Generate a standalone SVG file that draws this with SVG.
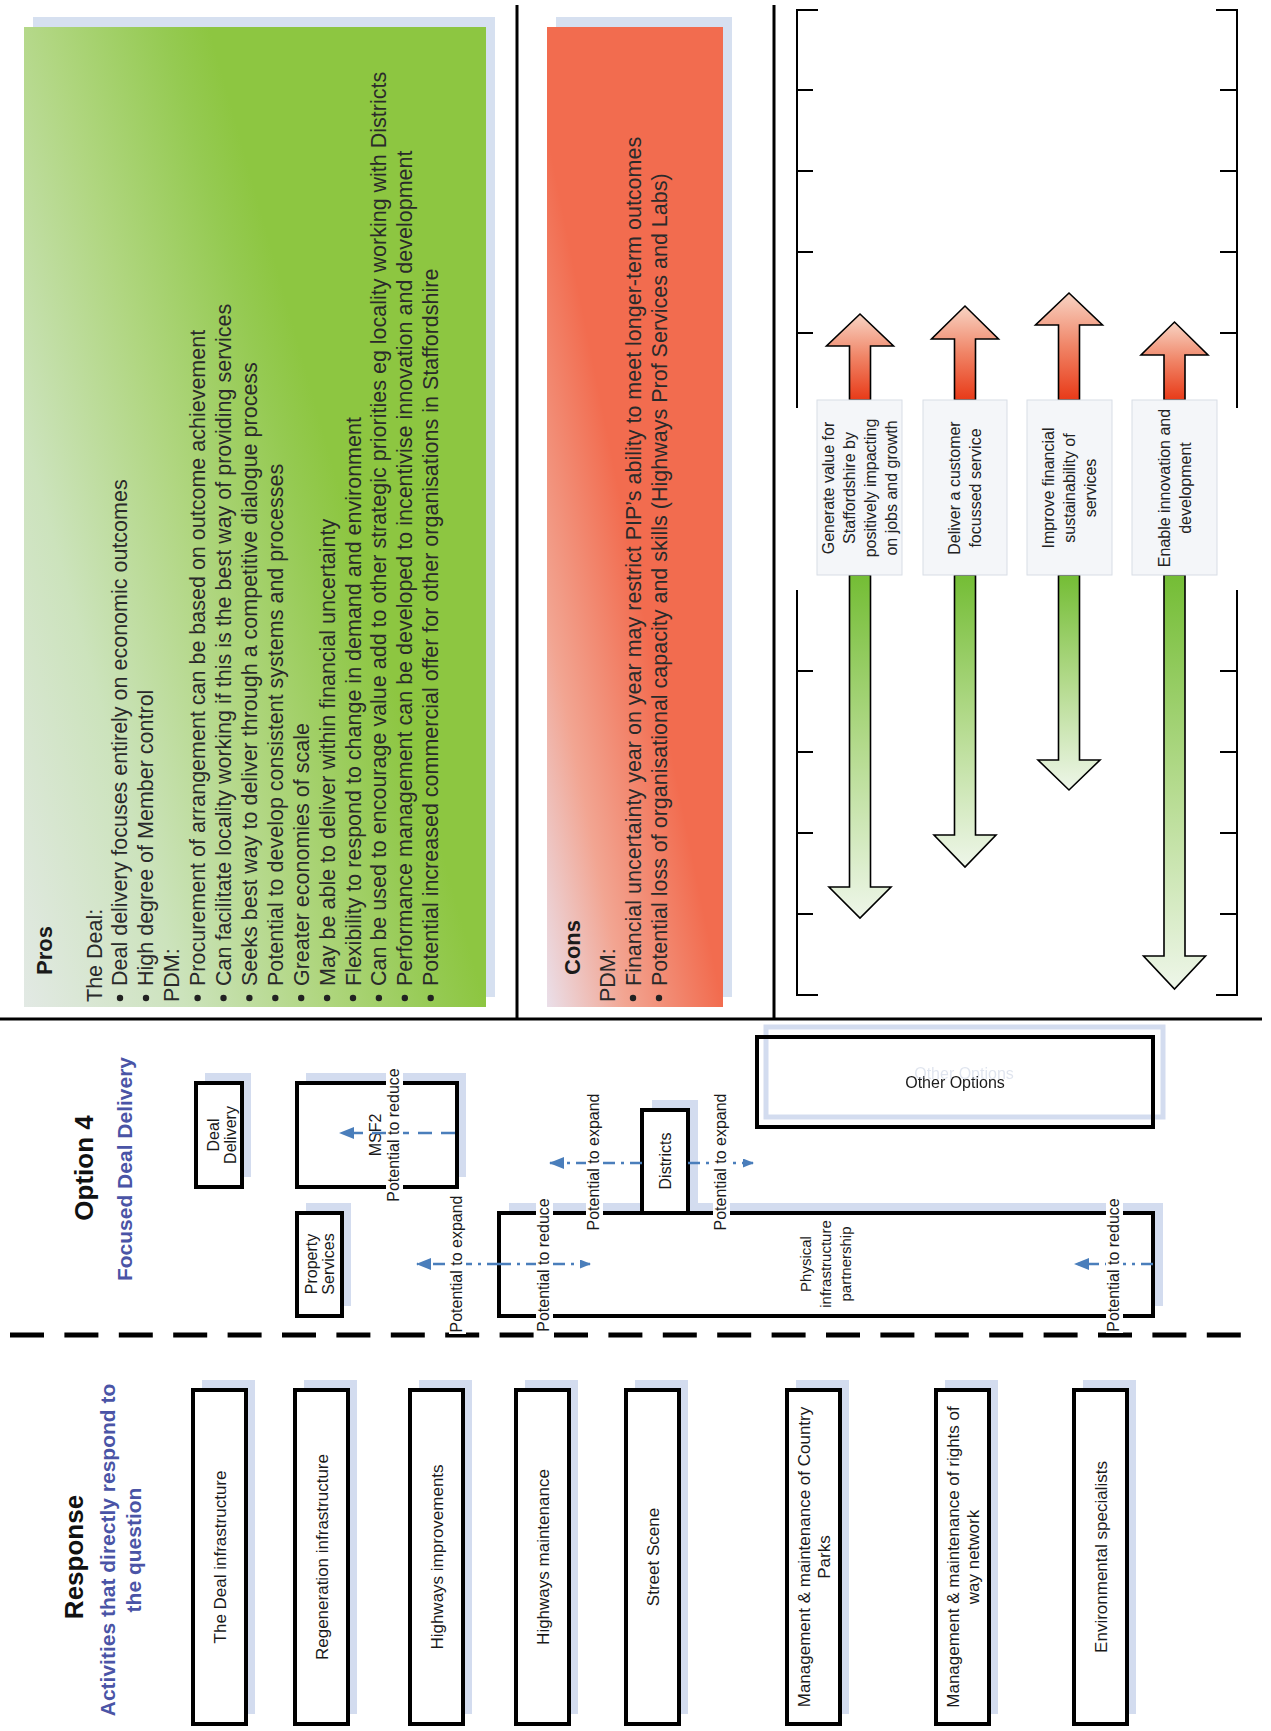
<svg xmlns="http://www.w3.org/2000/svg" width="1271" height="1731" viewBox="0 0 1271 1731">
<style>
  text { font-family: "Liberation Sans", Arial, sans-serif; fill: #1a1a1a; }
  .body { font-size: 21.5px; fill: #2a2a2a; }
  .head { font-size: 22px; font-weight: bold; fill: #1a1a1a; }
  .title { font-size: 26px; font-weight: bold; fill: #111; text-anchor: middle; }
  .sub { font-size: 21px; font-weight: bold; fill: #4a54a6; text-anchor: middle; }
  .node { fill: #fff; stroke: #000; stroke-width: 4; }
  .shadow { fill: #d3dcef; }
  .lbl { font-size: 16px; text-anchor: middle; }
  .small { font-size: 15px; text-anchor: middle; }
  .resp { font-size: 17px; text-anchor: middle; }
  .goal { font-size: 16px; text-anchor: middle; fill: #222; }
  .conn { fill: none; stroke: #4a7ebb; stroke-width: 2.5; stroke-dasharray: 12 6 3 6; }
  .conn.dash { stroke-dasharray: 14 9; }
  .lblbg { fill: #fff; }
  .rule { stroke: #000; stroke-width: 3; fill: none; }
  .sep { stroke: #000; stroke-width: 5; stroke-dasharray: 34 20.4; fill: none; }
  .tick { stroke: #000; stroke-width: 2; fill: none; }
  .up { stroke: #000; stroke-width: 1.6; fill: url(#upGrad); }
  .down { stroke: #000; stroke-width: 1.6; fill: url(#downGrad); }
  .goalbox { fill: #f4f6f9; stroke: #d8dde5; stroke-width: 1; }
  .dot { fill: #222; }
</style>
<defs>
  <linearGradient id="prosGrad" gradientUnits="userSpaceOnUse" x1="24" y1="1007" x2="452" y2="886">
    <stop offset="0" stop-color="#e2e9e4"/>
    <stop offset="0.35" stop-color="#cce3bc"/>
    <stop offset="0.65" stop-color="#b0d680"/>
    <stop offset="0.9" stop-color="#95ca52"/>
    <stop offset="1" stop-color="#8dc641"/>
  </linearGradient>
  <linearGradient id="consGrad" gradientUnits="userSpaceOnUse" x1="547" y1="1007" x2="716" y2="973">
    <stop offset="0" stop-color="#eadfe9"/>
    <stop offset="0.45" stop-color="#f2a592"/>
    <stop offset="1" stop-color="#f26c4f"/>
  </linearGradient>
  <linearGradient id="upGrad" x1="0" y1="0" x2="0" y2="1">
    <stop offset="0" stop-color="#f8d4c4"/>
    <stop offset="0.5" stop-color="#f08466"/>
    <stop offset="1" stop-color="#e83a18"/>
  </linearGradient>
  <linearGradient id="downGrad" x1="0" y1="0" x2="0" y2="1">
    <stop offset="0" stop-color="#74bd35"/>
    <stop offset="0.5" stop-color="#b3da8c"/>
    <stop offset="1" stop-color="#eef6e9"/>
  </linearGradient>
  <marker id="headL" markerUnits="userSpaceOnUse" markerWidth="15" markerHeight="12" refX="14" refY="6" orient="auto">
    <path d="M0,0 L15,6 L0,12 z" fill="#4a7ebb"/>
  </marker>
  <marker id="headS" markerUnits="userSpaceOnUse" markerWidth="11" markerHeight="9" refX="10" refY="4.5" orient="auto">
    <path d="M0,0 L11,4.5 L0,9 z" fill="#4a7ebb"/>
  </marker>
  <filter id="ghost" x="-10%" y="-50%" width="120%" height="200%">
    <feOffset in="SourceAlpha" dx="9" dy="-9" result="off"/>
    <feFlood flood-color="#dfe4ee"/>
    <feComposite in2="off" operator="in" result="sh"/>
    <feMerge><feMergeNode in="sh"/><feMergeNode in="SourceGraphic"/></feMerge>
  </filter>
</defs>

<!-- frame rules -->
<g id="frame">
  <line class="rule" x1="517" y1="5" x2="517" y2="1019"/>
  <line class="rule" x1="774" y1="5" x2="774" y2="1019"/>
  <line class="rule" x1="0" y1="1019" x2="1262" y2="1019"/>
  <line class="sep" x1="10" y1="1335" x2="1241" y2="1335"/>
</g>

<!-- Pros panel -->
<g id="pros">
  <rect x="33" y="17" width="462" height="980" fill="#d6e0f0"/>
  <rect x="24" y="27" width="462" height="980" fill="url(#prosGrad)"/>
  <text class="head" x="52" y="975" transform="rotate(-90 52 975)">Pros</text>
  <text class="body" x="101.5" y="1002" transform="rotate(-90 101.5 1002)">The Deal:</text>
  <circle class="dot" cx="120" cy="998" r="3.2"/>
  <text class="body" x="127.4" y="986" transform="rotate(-90 127.4 986)">Deal delivery focuses entirely on economic outcomes</text>
  <circle class="dot" cx="146" cy="998" r="3.2"/>
  <text class="body" x="153.3" y="986" transform="rotate(-90 153.3 986)">High degree of Member control</text>
  <text class="body" x="179.2" y="1002" transform="rotate(-90 179.2 1002)">PDM:</text>
  <circle class="dot" cx="197.6" cy="998" r="3.2"/>
  <text class="body" x="205.1" y="986" transform="rotate(-90 205.1 986)">Procurement of arrangement can be based on outcome achievement</text>
  <circle class="dot" cx="223.5" cy="998" r="3.2"/>
  <text class="body" x="231" y="986" transform="rotate(-90 231 986)">Can facilitate locality working if this is the best way of providing services</text>
  <circle class="dot" cx="249.4" cy="998" r="3.2"/>
  <text class="body" x="256.9" y="986" transform="rotate(-90 256.9 986)">Seeks best way to deliver through a competitive dialogue process</text>
  <circle class="dot" cx="275.3" cy="998" r="3.2"/>
  <text class="body" x="282.8" y="986" transform="rotate(-90 282.8 986)">Potential to develop consistent systems and processes</text>
  <circle class="dot" cx="301.2" cy="998" r="3.2"/>
  <text class="body" x="308.7" y="986" transform="rotate(-90 308.7 986)">Greater economies of scale</text>
  <circle class="dot" cx="327.1" cy="998" r="3.2"/>
  <text class="body" x="334.6" y="986" transform="rotate(-90 334.6 986)">May be able to deliver within financial uncertainty</text>
  <circle class="dot" cx="353" cy="998" r="3.2"/>
  <text class="body" x="360.5" y="986" transform="rotate(-90 360.5 986)">Flexibility to respond to change in demand and environment</text>
  <circle class="dot" cx="378.9" cy="998" r="3.2"/>
  <text class="body" x="386.4" y="986" transform="rotate(-90 386.4 986)">Can be used to encourage value add to other strategic priorities eg locality working with Districts</text>
  <circle class="dot" cx="404.8" cy="998" r="3.2"/>
  <text class="body" x="412.3" y="986" transform="rotate(-90 412.3 986)">Performance management can be developed to incentivise innovation and development</text>
  <circle class="dot" cx="430.7" cy="998" r="3.2"/>
  <text class="body" x="438.2" y="986" transform="rotate(-90 438.2 986)">Potential increased commercial offer for other organisations in Staffordshire</text>
</g>

<!-- Cons panel -->
<g id="cons">
  <rect x="556" y="17" width="176" height="980" fill="#d6e0f0"/>
  <rect x="547" y="27" width="176" height="980" fill="url(#consGrad)"/>
  <text class="head" x="580" y="975" transform="rotate(-90 580 975)">Cons</text>
  <text class="body" x="614.5" y="1002" transform="rotate(-90 614.5 1002)">PDM:</text>
  <circle class="dot" cx="633" cy="998" r="3.2"/>
  <text class="body" x="640.5" y="986" transform="rotate(-90 640.5 986)">Financial uncertainty year on year may restrict PIP’s ability to meet longer-term outcomes</text>
  <circle class="dot" cx="659" cy="998" r="3.2"/>
  <text class="body" x="666.5" y="986" transform="rotate(-90 666.5 986)">Potential loss of organisational capacity and skills (Highways Prof Services and Labs)</text>
</g>

<!-- measurement scale brackets -->
<g id="scale">
  <path class="tick" d="M818,10 H797 V408 M797,90 H813 M797,171 H813 M797,252 H813 M797,333 H813"/>
  <path class="tick" d="M797,590 V995 H818 M797,671 H813 M797,752 H813 M797,833 H813 M797,914 H813"/>
  <path class="tick" d="M1216,10 H1237 V408 M1237,90 H1220 M1237,171 H1220 M1237,252 H1220 M1237,333 H1220"/>
  <path class="tick" d="M1237,590 V995 H1216 M1237,671 H1220 M1237,752 H1220 M1237,833 H1220 M1237,914 H1220"/>
</g>

<!-- outcome goals with up / down arrows -->
<g id="goal-value">
  <polygon class="up" points="849.5,400 849.5,346 826.5,346 860,314 893.5,346 870.5,346 870.5,400"/>
  <polygon class="down" points="849.5,575 849.5,887 829,887 860,918 891,887 870.5,887 870.5,575"/>
  <rect class="goalbox" x="817" y="400" width="85" height="175"/>
  <text class="goal" x="833.7" y="488" transform="rotate(-90 833.7 488)">Generate value for</text>
  <text class="goal" x="854.7" y="488" transform="rotate(-90 854.7 488)">Staffordshire by</text>
  <text class="goal" x="875.7" y="488" transform="rotate(-90 875.7 488)">positively impacting</text>
  <text class="goal" x="896.7" y="488" transform="rotate(-90 896.7 488)">on jobs and growth</text>
</g>
<g id="goal-customer">
  <polygon class="up" points="954.5,400 954.5,339 931.5,339 965,306 998.5,339 975.5,339 975.5,400"/>
  <polygon class="down" points="954.5,575 954.5,835 934,835 965,867 996,835 975.5,835 975.5,575"/>
  <rect class="goalbox" x="923" y="400" width="84" height="175"/>
  <text class="goal" x="960" y="488" transform="rotate(-90 960 488)">Deliver a customer</text>
  <text class="goal" x="981" y="488" transform="rotate(-90 981 488)">focussed service</text>
</g>
<g id="goal-finance">
  <polygon class="up" points="1058.5,400 1058.5,325 1035.5,325 1069,293 1102.5,325 1079.5,325 1079.5,400"/>
  <polygon class="down" points="1058.5,575 1058.5,760 1038,760 1069,790 1100,760 1079.5,760 1079.5,575"/>
  <rect class="goalbox" x="1027" y="400" width="85" height="175"/>
  <text class="goal" x="1054" y="488" transform="rotate(-90 1054 488)">Improve financial</text>
  <text class="goal" x="1075" y="488" transform="rotate(-90 1075 488)">sustainability of</text>
  <text class="goal" x="1096" y="488" transform="rotate(-90 1096 488)">services</text>
</g>
<g id="goal-innovation">
  <polygon class="up" points="1164,400 1164,355 1141,355 1174.5,322 1208,355 1185,355 1185,400"/>
  <polygon class="down" points="1164,575 1164,956 1143.5,956 1174.5,989 1205.5,956 1185,956 1185,575"/>
  <rect class="goalbox" x="1132" y="400" width="85" height="175"/>
  <text class="goal" x="1169.5" y="488" transform="rotate(-90 1169.5 488)">Enable innovation and</text>
  <text class="goal" x="1190.5" y="488" transform="rotate(-90 1190.5 488)">development</text>
</g>

<!-- Option 4 heading -->
<g id="option-heading">
  <text class="title" x="93" y="1168" transform="rotate(-90 93 1168)">Option 4</text>
  <text class="sub" x="132" y="1169" transform="rotate(-90 132 1169)">Focused Deal Delivery</text>
</g>

<!-- Option 4 organisations -->
<g id="deal-delivery">
  <rect class="shadow" x="205" y="1073" width="46" height="104"/>
  <rect class="node" x="196" y="1083" width="46" height="104"/>
  <text class="lbl" x="218.5" y="1135" transform="rotate(-90 218.5 1135)">Deal</text>
  <text class="lbl" x="235.5" y="1135" transform="rotate(-90 235.5 1135)">Delivery</text>
</g>
<g id="msf2">
  <rect class="shadow" x="306" y="1073" width="160" height="104"/>
  <rect class="node" x="297" y="1083" width="160" height="104"/>
  <text class="lbl" x="381" y="1135" transform="rotate(-90 381 1135)">MSF2</text>
</g>
<g id="property-services">
  <rect class="shadow" x="306" y="1203" width="45" height="103"/>
  <rect class="node" x="297" y="1213" width="45" height="103"/>
  <text class="lbl" x="317" y="1264" transform="rotate(-90 317 1264)">Property</text>
  <text class="lbl" x="334" y="1264" transform="rotate(-90 334 1264)">Services</text>
</g>
<g id="pip">
  <rect class="shadow" x="509" y="1203" width="654" height="103"/>
  <rect class="node" x="499" y="1213" width="654" height="103"/>
  <text class="small" x="811" y="1264" transform="rotate(-90 811 1264)">Physical</text>
  <text class="small" x="831" y="1264" transform="rotate(-90 831 1264)">infrastructure</text>
  <text class="small" x="851" y="1264" transform="rotate(-90 851 1264)">partnership</text>
</g>
<g id="districts">
  <rect class="shadow" x="652" y="1100" width="46" height="103"/>
  <rect class="node" x="642" y="1110" width="46" height="103"/>
  <text class="lbl" x="671" y="1161" transform="rotate(-90 671 1161)">Districts</text>
</g>
<g id="other-options">
  <rect x="766" y="1027" width="397" height="90" fill="none" stroke="#d3dcef" stroke-width="5"/>
  <rect x="757" y="1037" width="396" height="90" fill="none" stroke="#000" stroke-width="4"/>
  <text class="lbl" x="955" y="1088" filter="url(#ghost)">Other Options</text>
</g>

<!-- Response heading -->
<g id="response-heading">
  <text class="title" x="83" y="1557" transform="rotate(-90 83 1557)">Response</text>
  <text class="sub" x="115" y="1550" transform="rotate(-90 115 1550)">Activities that directly respond to</text>
  <text class="sub" x="141" y="1550" transform="rotate(-90 141 1550)">the question</text>
</g>

<!-- Response activities -->
<g id="act-deal">
  <rect class="shadow" x="202" y="1380" width="53" height="334"/>
  <rect class="node" x="193" y="1390" width="53" height="334"/>
  <text class="resp" x="225.5" y="1557" transform="rotate(-90 225.5 1557)">The Deal infrastructure</text>
</g>
<g id="act-regeneration">
  <rect class="shadow" x="304" y="1380" width="53" height="334"/>
  <rect class="node" x="295" y="1390" width="53" height="334"/>
  <text class="resp" x="327.5" y="1557" transform="rotate(-90 327.5 1557)">Regeneration infrastructure</text>
</g>
<g id="act-highways-improvements">
  <rect class="shadow" x="419" y="1380" width="53" height="334"/>
  <rect class="node" x="410" y="1390" width="53" height="334"/>
  <text class="resp" x="442.5" y="1557" transform="rotate(-90 442.5 1557)">Highways improvements</text>
</g>
<g id="act-highways-maintenance">
  <rect class="shadow" x="525" y="1380" width="53" height="334"/>
  <rect class="node" x="516" y="1390" width="53" height="334"/>
  <text class="resp" x="548.5" y="1557" transform="rotate(-90 548.5 1557)">Highways maintenance</text>
</g>
<g id="act-street-scene">
  <rect class="shadow" x="635" y="1380" width="53" height="334"/>
  <rect class="node" x="626" y="1390" width="53" height="334"/>
  <text class="resp" x="658.5" y="1557" transform="rotate(-90 658.5 1557)">Street Scene</text>
</g>
<g id="act-country-parks">
  <rect class="shadow" x="796" y="1380" width="53" height="334"/>
  <rect class="node" x="787" y="1390" width="53" height="334"/>
  <text class="resp" x="809.5" y="1557" transform="rotate(-90 809.5 1557)">Management &amp; maintenance of Country</text>
  <text class="resp" x="829.5" y="1557" transform="rotate(-90 829.5 1557)">Parks</text>
</g>
<g id="act-rights-of-way">
  <rect class="shadow" x="945" y="1380" width="53" height="334"/>
  <rect class="node" x="936" y="1390" width="53" height="334"/>
  <text class="resp" x="958.5" y="1557" transform="rotate(-90 958.5 1557)">Management &amp; maintenance of rights of</text>
  <text class="resp" x="978.5" y="1557" transform="rotate(-90 978.5 1557)">way network</text>
</g>
<g id="act-environmental">
  <rect class="shadow" x="1083" y="1380" width="53" height="334"/>
  <rect class="node" x="1074" y="1390" width="53" height="334"/>
  <text class="resp" x="1106.5" y="1557" transform="rotate(-90 1106.5 1557)">Environmental specialists</text>
</g>

<!-- connectors: potential to expand / reduce -->
<g id="connectors">
  <line class="conn dash" x1="455" y1="1133" x2="340" y2="1133" marker-end="url(#headL)"/>
  <line class="conn" x1="499" y1="1264" x2="417" y2="1264" marker-end="url(#headL)"/>
  <line class="conn" x1="499" y1="1264" x2="590" y2="1264" marker-end="url(#headS)"/>
  <line class="conn" x1="642" y1="1163" x2="550" y2="1163" marker-end="url(#headL)"/>
  <line class="conn" x1="688" y1="1163" x2="753" y2="1163" marker-end="url(#headS)"/>
  <line class="conn" x1="1153" y1="1264" x2="1075" y2="1264" marker-end="url(#headL)"/>

  <rect class="lblbg" x="386" y="1068" width="17" height="135"/>
  <text class="lbl" x="399" y="1135" transform="rotate(-90 399 1135)">Potential to reduce</text>
  <rect class="lblbg" x="449" y="1195" width="17" height="139"/>
  <text class="lbl" x="462" y="1264" transform="rotate(-90 462 1264)">Potential to expand</text>
  <rect class="lblbg" x="536" y="1198" width="17" height="135"/>
  <text class="lbl" x="549" y="1265" transform="rotate(-90 549 1265)">Potential to reduce</text>
  <rect class="lblbg" x="586" y="1093" width="17" height="139"/>
  <text class="lbl" x="599" y="1162" transform="rotate(-90 599 1162)">Potential to expand</text>
  <rect class="lblbg" x="713" y="1093" width="17" height="139"/>
  <text class="lbl" x="726" y="1162" transform="rotate(-90 726 1162)">Potential to expand</text>
  <rect class="lblbg" x="1106" y="1198" width="17" height="135"/>
  <text class="lbl" x="1119" y="1265" transform="rotate(-90 1119 1265)">Potential to reduce</text>
</g>
</svg>
